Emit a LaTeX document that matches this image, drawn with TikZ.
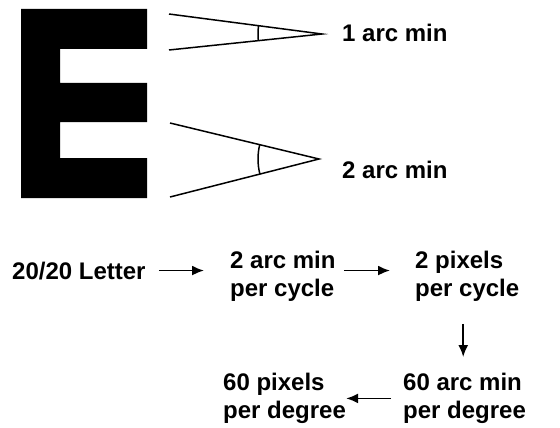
\documentclass[tikz,border=0pt]{standalone}
\usepackage{fontspec}
\setmainfont{Liberation Sans}
\usetikzlibrary{arrows.meta}

\begin{document}
\begin{tikzpicture}[x=1pt,y=-1pt,>={Latex[length=12pt,width=10pt]},
        every node/.style={font=\fontsize{24}{28}\selectfont\bfseries,
          inner sep=0pt,align=left},
        flow/.style={->,line width=1.8pt},
        ray/.style={line width=1.5pt}]
  \useasboundingbox (0,0) rectangle (560,428);

  % the letter
  \fill (21,9) -- (147,9) -- (147,49) -- (60,49) -- (60,83) -- (147,83)
    -- (147,122) -- (60,122) -- (60,158) -- (147,158) -- (147,198)
    -- (21,198) -- cycle;

  % visual angles
  \coordinate (apexA) at (322,34);
  \coordinate (apexB) at (319,159);
  \draw[ray] (169,14) -- (apexA) -- (169,50);
  \draw[ray] ([shift={(187.45:64)}]apexA) arc[start angle=187.45,end angle=174,radius=64];
  \draw[ray] (170,123) -- (apexB) -- (170,197);
  \draw[ray] ([shift={(193.6:61)}]apexB) arc[start angle=193.6,end angle=165.7,radius=61];

  \node[anchor=base west] (one) at (342,42) {1 arc min};
  \node[anchor=base west] (two) at (342,178) {2 arc min};

  % conversion chain
  \node[anchor=base west] (letter) at (12,279) {20/20 Letter};
  \node[anchor=north west] (cyc) at (230,251) {2 arc min\\per cycle};
  \node[anchor=north west] (pix) at (415,251) {2 pixels\\per cycle};
  \node[anchor=north west] (arcdeg) at (403,373) {60 arc min\\per degree};
  \node[anchor=north west] (deg) at (223,373) {60 pixels\\per degree};

  \draw[flow,shorten <=13pt,shorten >=26pt] (letter.east) -- (letter.east -| cyc.west);
  \draw[flow,shorten <=8pt,shorten >=25pt] (cyc.east |- letter.east) -- (pix.west |- letter.east);
  \draw[flow,shorten <=22pt,shorten >=16pt] ([xshift=-4pt]pix.south) -- ([xshift=-4pt]pix.south |- arcdeg.north);
  \draw[flow,shorten <=12pt,shorten >=0pt] (arcdeg.west) -- (arcdeg.west -| deg.east);

\end{tikzpicture}
\end{document}
